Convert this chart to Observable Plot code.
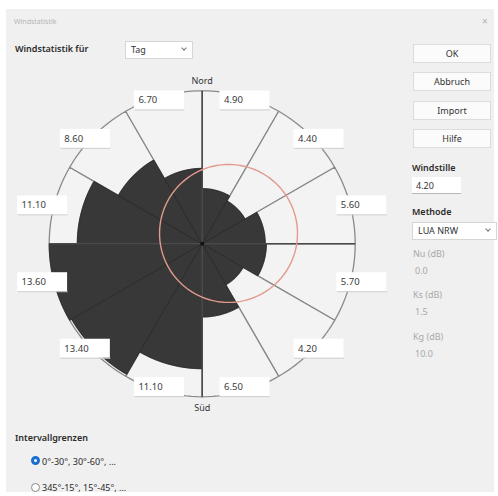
<!DOCTYPE html>
<html>
<head>
<meta charset="utf-8">
<script src="https://cdn.jsdelivr.net/npm/d3@7"></script>
<script src="https://cdn.jsdelivr.net/npm/@observablehq/plot@0.6"></script>
<style>
  html, body { margin: 0; padding: 0; background: #ffffff; }
  body { width: 498px; height: 496px; position: relative; overflow: hidden; font-family: "Noto Sans", "Liberation Sans", sans-serif; }
  #dlg { position: absolute; left: 6px; top: 9px; width: 488px; height: 483px; background: #f0f0f0; }
  .t { position: absolute; font-size: 9px; color: #2a2a2a; white-space: nowrap; line-height: 1; }
  .b { font-weight: 600; }
  .dis { color: #a8a8a8; }
  .btn { position: absolute; left: 413px; width: 78px; height: 19px; background: #fbfbfb; border: 1px solid #dcdcdc; box-sizing: border-box; font-size: 9px; color: #333; text-align: center; line-height: 17px; }
  .edit { position: absolute; background: #ffffff; border-bottom: 1px solid #b8b8b8; box-sizing: border-box; font-size: 9px; color: #333; padding-left: 4px; line-height: 17px; }
  .combo { position: absolute; background: #ffffff; border: 1px solid #d6d6d6; box-sizing: border-box; font-size: 9px; color: #333; padding-left: 5px; line-height: 16px; }
  .chev { position: absolute; right: 6px; top: 4px; width: 3px; height: 3px; border-right: 1px solid #777; border-bottom: 1px solid #777; transform: rotate(45deg); }
  .radio { position: absolute; width: 9px; height: 9px; border-radius: 50%; box-sizing: border-box; }
  #chart { position: absolute; left: 0; top: 68px; }
</style>
</head>
<body>
<div id="dlg"></div>
<div class="t dis" style="left:14px;top:18px;font-size:7px;color:#b4b4b4">Windstatistik</div>
<div class="t dis" style="left:482px;top:16px;font-size:10px;color:#b0b0b0">×</div>

<div class="t b" style="left:15px;top:44px">Windstatistik für</div>
<div class="combo" style="left:125px;top:41px;width:68px;height:18px">Tag<span class="chev"></span></div>

<div class="btn" style="top:44px">OK</div>
<div class="btn" style="top:72px">Abbruch</div>
<div class="btn" style="top:101px">Import</div>
<div class="btn" style="top:129px">Hilfe</div>

<div class="t b" style="left:412px;top:163px">Windstille</div>
<div class="edit" style="left:412px;top:177px;width:49px;height:17px">4.20</div>
<div class="t b" style="left:412px;top:207px">Methode</div>
<div class="combo" style="left:412px;top:222px;width:85px;height:18px">LUA NRW<span class="chev"></span></div>
<div class="t dis" style="left:413px;top:249px">Nu (dB)</div>
<div class="t dis" style="left:415px;top:266px">0.0</div>
<div class="t dis" style="left:413px;top:290px">Ks (dB)</div>
<div class="t dis" style="left:415px;top:307px">1.5</div>
<div class="t dis" style="left:413px;top:332px">Kg (dB)</div>
<div class="t dis" style="left:415px;top:349px">10.0</div>

<div class="t b" style="left:15px;top:433px">Intervallgrenzen</div>
<div class="radio" style="left:31px;top:456px;border:3px solid #1a6fd0;background:#fff"></div>
<div class="t" style="left:42px;top:457px">0°-30°, 30°-60°, ...</div>
<div class="radio" style="left:31px;top:483px;border:1px solid #8a8a8a;background:#fff"></div>
<div class="t" style="left:42px;top:483px">345°-15°, 15°-45°, ...</div>

<div id="chart"></div>
<script>
// ---- data ----
const sectorStart = [0, 30, 60, 90, 120, 150, 180, 210, 240, 270, 300, 330]; // degrees, clockwise from north
const sectorWidth = 30;
const frequency = [4.90, 4.40, 5.60, 5.70, 4.20, 6.50, 11.10, 13.40, 13.60, 11.10, 8.60, 6.70];
const compassLabels = ["Nord", "Süd"];
const refCircleCenter = [2.34, 0.92]; // east, north (same units as frequency)
const refCircleRadius = [6.13];

// ---- layout ----
const W = 410, H = 350, svgTop = 68;
const CX = 201.7, CY = 243.3;     // page position of the rose centre
const k = 11.25;                   // px per unit
const R = d3.max(frequency);       // outer ring

const rad = a => a * Math.PI / 180;
const pt = (r, a, id) => ({x: r * Math.sin(rad(a)), y: r * Math.cos(rad(a)), id});
function arc(r, a0, a1, id) {
  const n = Math.max(2, Math.ceil(Math.abs(a1 - a0) / 2));
  return d3.range(n + 1).map(i => pt(r, a0 + (a1 - a0) * i / n, id));
}

const sectors = sectorStart.map((a0, i) => ({i, a0, a1: a0 + sectorWidth, v: frequency[i], label: frequency[i].toFixed(2)}));

const lightPts = sectors.flatMap(s => [pt(s.v, s.a0, s.i), ...arc(R, s.a0, s.a1, s.i), ...arc(s.v, s.a1, s.a0, s.i)]);
const darkPts = sectors.flatMap(s => [pt(0, 0, s.i), ...arc(s.v, s.a0, s.a1, s.i), pt(0, 0, s.i)]);
const circlePts = arc(refCircleRadius[0], 0, 360, "c").map(p => ({x: p.x + refCircleCenter[0], y: p.y + refCircleCenter[1]}));

const hw = 25 / k, hh = 9.5 / k;
const boxes = sectors.map(s => {
  const m = s.a0 + sectorWidth / 2;
  return {cx: 1.08 * R * Math.sin(rad(m)), cy: 0.97 * R * Math.cos(rad(m)), label: s.label};
});

const compass = [{x: 0, y: R, t: compassLabels[0]}, {x: 0, y: -R, t: compassLabels[1]}];

const plot = Plot.plot({
  width: W, height: H, margin: 0,
  x: {domain: [-CX / k, (W - CX) / k], axis: null},
  y: {domain: [-(svgTop + H - CY) / k, (CY - svgTop) / k], axis: null},
  style: {background: "transparent", fontFamily: "Noto Sans, sans-serif", overflow: "visible"},
  marks: [
    Plot.line(lightPts, {x: "x", y: "y", z: "id", fill: "#f3f3f3", stroke: "#8a8a8a", strokeWidth: 1.3, curve: "linear"}),
    Plot.line(darkPts, {x: "x", y: "y", z: "id", fill: "#383838", stroke: "#262626", strokeWidth: 0.8, curve: "linear"}),
    Plot.link([{a: -R, b: R}], {x1: 0, x2: 0, y1: "a", y2: "b", stroke: "#4a4a4a", strokeWidth: 1.6}),
    Plot.link([{a: -R, b: R}], {x1: "a", x2: "b", y1: 0, y2: 0, stroke: "#4a4a4a", strokeWidth: 1.4}),
    Plot.dot([{x: 0, y: 0}], {x: "x", y: "y", r: 2, fill: "#111"}),
    Plot.line(circlePts, {x: "x", y: "y", stroke: "#e29a8c", strokeWidth: 1.4, curve: "linear"}),
    Plot.rect(boxes, {x1: d => d.cx - hw, x2: d => d.cx + hw, y1: d => d.cy - hh, y2: d => d.cy + hh, fill: "#ffffff"}),
    Plot.link(boxes, {x1: d => d.cx - hw, x2: d => d.cx + hw, y1: d => d.cy - hh, y2: d => d.cy - hh, stroke: "#cfcfcf"}),
    Plot.text(boxes, {x: d => d.cx - hw + 4 / k, y: "cy", text: "label", textAnchor: "start", fontSize: 9.5, fill: "#3a3a3a"}),
    Plot.text(compass.slice(0, 1), {x: "x", y: "y", text: "t", dy: -10, fontSize: 9, fill: "#333"}),
    Plot.text(compass.slice(1), {x: "x", y: "y", text: "t", dy: 11, fontSize: 9, fill: "#333"})
  ]
});
document.getElementById("chart").appendChild(plot);
</script>
</body>
</html>
